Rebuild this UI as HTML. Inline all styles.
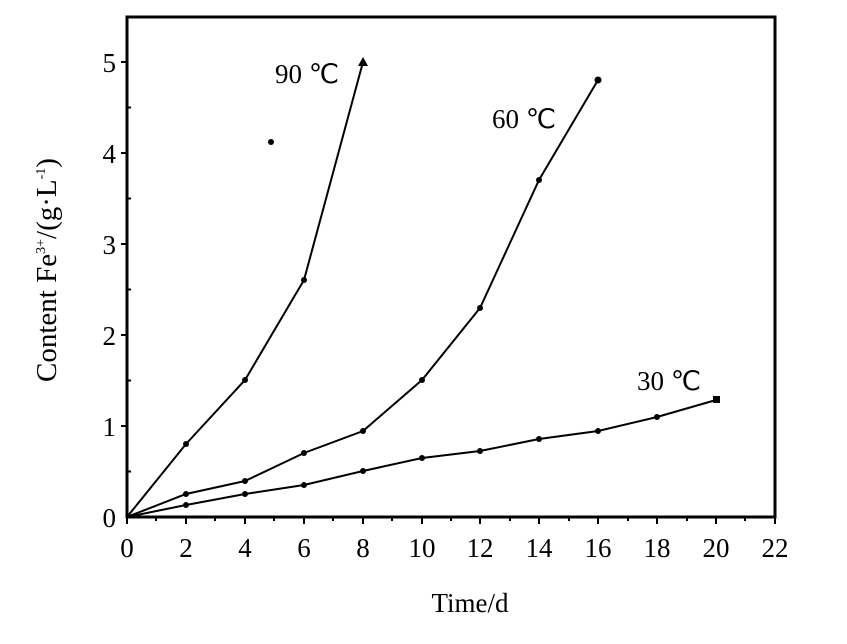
<!DOCTYPE html>
<html><head><style>body{margin:0;background:#fff}svg{display:block}text{font-family:"Liberation Serif",serif;fill:#000}</style></head><body>
<svg width="847" height="644" viewBox="0 0 847 644">
<g stroke="#000" fill="none">
<rect x="127" y="17" width="648" height="500" stroke-width="3"/>
<g stroke-width="2">
<path d="M127 517v7M186 517v7M245 517v7M304 517v7M363 517v7M422 517v7M480 517v7M539 517v7M598 517v7M657 517v7M716 517v7M775 517v7"/>
<path d="M156 517v4M215 517v4M274 517v4M333 517v4M392 517v4M451 517v4M510 517v4M569 517v4M628 517v4M687 517v4M745 517v4"/>
<path d="M127 426h-6M127 335h-6M127 244h-6M127 153h-6M127 62h-6"/>
<path d="M127 471.5h4M127 380.5h4M127 289.5h4M127 198.5h4M127 107.5h4"/>
<polyline points="127,517 186,444 245,380 304,280 363,62"/>
<polyline points="127,517 186,494 245,481 304,453 363,431 422,380 480,308 539,180 598,80"/>
<polyline points="127,517 186,505 245,494 304,485 363,471 422,458 480,451 539,439 598,431 657,417 716,400"/>
</g></g>
<g fill="#000">
<circle cx="186" cy="444" r="3"/><circle cx="245" cy="380" r="3"/><circle cx="304" cy="280" r="3"/><path d="M358 66l5-9 5 9z"/>
<circle cx="271" cy="142" r="3"/>
<circle cx="186" cy="494" r="3"/><circle cx="245" cy="481" r="3"/><circle cx="304" cy="453" r="3"/><circle cx="363" cy="431" r="3"/><circle cx="422" cy="380" r="3"/><circle cx="480" cy="308" r="3"/><circle cx="539" cy="180" r="3"/><circle cx="598" cy="80" r="3.5"/>
<circle cx="186" cy="505" r="3"/><circle cx="245" cy="494" r="3"/><circle cx="304" cy="485" r="3"/><circle cx="363" cy="471" r="3"/><circle cx="422" cy="458" r="3"/><circle cx="480" cy="451" r="3"/><circle cx="539" cy="439" r="3"/><circle cx="598" cy="431" r="3"/><circle cx="657" cy="417" r="3"/><rect x="713" y="396" width="7" height="7"/>
</g>
<g font-size="27" text-anchor="middle">
<text x="127" y="557">0</text><text x="186" y="557">2</text><text x="245" y="557">4</text><text x="304" y="557">6</text><text x="363" y="557">8</text><text x="422" y="557">10</text><text x="480" y="557">12</text><text x="539" y="557">14</text><text x="598" y="557">16</text><text x="657" y="557">18</text><text x="716" y="557">20</text><text x="775" y="557">22</text>
</g>
<g font-size="27" text-anchor="end">
<text x="116" y="527">0</text><text x="116" y="436">1</text><text x="116" y="345">2</text><text x="116" y="254">3</text><text x="116" y="163">4</text><text x="116" y="72">5</text>
</g>
<g font-size="27">
<text x="275" y="83">90 ℃</text><text x="492" y="128">60 ℃</text><text x="637" y="390">30 ℃</text>
<text x="470" y="612" text-anchor="middle">Time/d</text>
<text transform="translate(56,270) rotate(-90)" text-anchor="middle" font-size="29">Content Fe<tspan font-size="14" dy="-11">3+</tspan><tspan dy="11">/(g·L</tspan><tspan font-size="14" dy="-11">-1</tspan><tspan dy="11">)</tspan></text>
</g>
</svg></body></html>
